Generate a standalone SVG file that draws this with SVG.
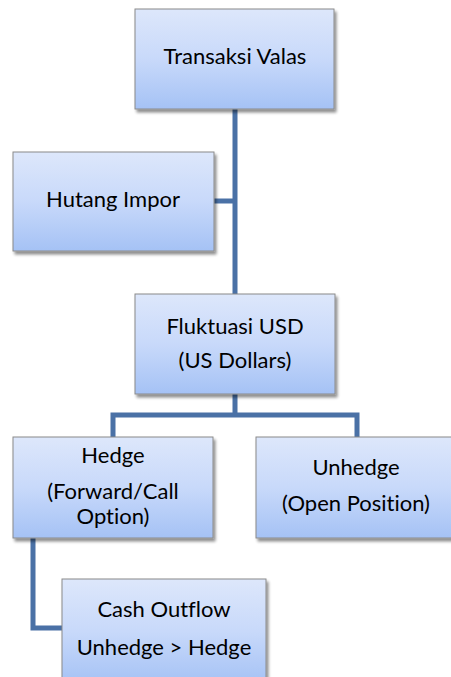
<svg xmlns="http://www.w3.org/2000/svg" width="451" height="677" viewBox="0 0 451 677">
<defs>
<linearGradient id="g" x1="0" y1="0" x2="0" y2="1">
<stop offset="0" stop-color="#dde7fb"/>
<stop offset="0.5" stop-color="#c8d9fa"/>
<stop offset="1" stop-color="#a5c2f5"/>
</linearGradient>
<filter id="sh" x="-10%" y="-10%" width="130%" height="130%">
<feGaussianBlur in="SourceAlpha" stdDeviation="1.5"/>
<feOffset dx="2" dy="3" result="b"/>
<feComponentTransfer><feFuncA type="linear" slope="0.45"/></feComponentTransfer>
<feMerge><feMergeNode/><feMergeNode in="SourceGraphic"/></feMerge>
</filter>
</defs>
<style>
.box{fill:url(#g);stroke:#8a8a8a;stroke-width:1;filter:url(#sh)}
.t{font-family:Lato,"Open Sans","Liberation Sans",sans-serif;font-size:22px;font-weight:400;fill:#000;text-anchor:middle;font-variant-ligatures:none;font-feature-settings:"liga" 0,"dlig" 0}
.c{fill:none;stroke:#4a71a6;stroke-width:5;stroke-linejoin:miter}
</style>
<rect width="451" height="677" fill="#fff"/>
<g id="connectors">
<path class="c" d="M235,109 V294"/>
<path class="c" d="M214,201 H235"/>
<path class="c" d="M235,394 V415 M113,437 V415 H357 V437"/>
<path class="c" d="M33,538 V628 H62"/>
</g>
<g id="n1"><rect class="box" x="135" y="9" width="199" height="100"/><text class="t" x="235" y="64">Transaksi Valas</text></g>
<g id="n2"><rect class="box" x="13" y="152" width="201" height="99"/><text class="t" x="113" y="207">Hutang Impor</text></g>
<g id="n3"><rect class="box" x="135" y="294" width="200" height="100"/><text class="t" x="235" y="334">Fluktuasi USD</text><text class="t" x="235" y="368">(US Dollars)</text></g>
<g id="n4"><rect class="box" x="13" y="437" width="200" height="101"/><text class="t" x="113" y="463">Hedge</text><text class="t" x="113" y="499">(Forward/Call</text><text class="t" x="113" y="524">Option)</text></g>
<g id="n5"><rect class="box" x="256" y="437" width="200" height="101"/><text class="t" x="356" y="475">Unhedge</text><text class="t" x="356" y="511">(Open Position)</text></g>
<g id="n6"><rect class="box" x="62" y="579" width="204" height="105"/><text class="t" x="164" y="617">Cash Outflow</text><text class="t" x="164" y="655">Unhedge &gt; Hedge</text></g>
</svg>
